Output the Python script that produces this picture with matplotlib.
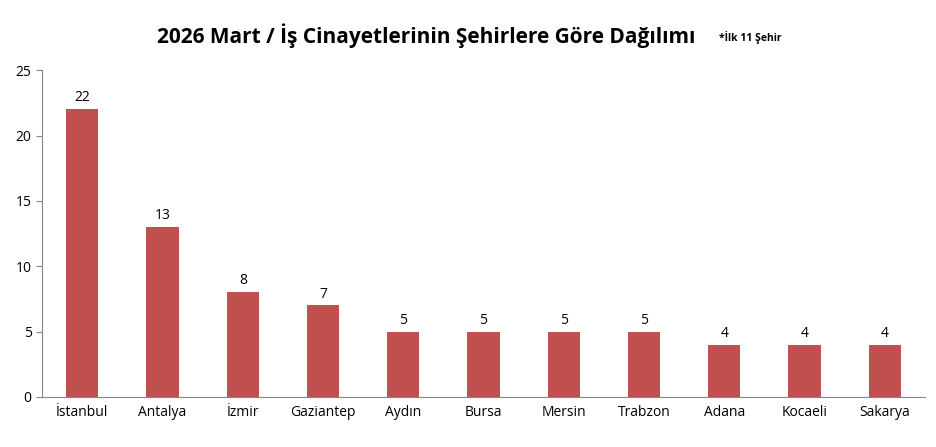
import matplotlib.pyplot as plt

cities = ["İstanbul", "Antalya", "İzmir", "Gaziantep", "Aydın", "Bursa",
          "Mersin", "Trabzon", "Adana", "Kocaeli", "Sakarya"]
counts = [22, 13, 8, 7, 5, 5, 5, 5, 4, 4, 4]

plt.rcParams['font.family'] = ['Open Sans', 'DejaVu Sans']

fig = plt.figure(figsize=(9.37, 4.47), dpi=100)
ax = fig.add_axes([0.045, 0.112, 0.942, 0.731])

bars = ax.bar(range(len(cities)), counts, width=0.4, color='#C0504D')
for i, v in enumerate(counts):
    ax.text(i, v + 0.3, str(v), ha='center', va='bottom', fontsize=10)

ax.set_xlim(-0.5, len(cities) - 0.5)
ax.set_ylim(0, 25)
ax.set_yticks(range(0, 26, 5))
ax.set_xticks(range(len(cities)))
ax.set_xticklabels(cities, fontsize=10)
ax.tick_params(axis='y', labelsize=10, length=4, color='#868686')
ax.tick_params(axis='x', length=0, pad=6)
for s in ['top', 'right']:
    ax.spines[s].set_visible(False)
for s in ['left', 'bottom']:
    ax.spines[s].set_color('#868686')

fig.text(0.455, 0.92, "2026 Mart / İş Cinayetlerinin Şehirlere Göre Dağılımı",
         ha='center', va='center', fontsize=15, fontweight='bold')
fig.text(0.767, 0.917, "*İlk 11 Şehir", ha='left', va='center',
         fontsize=7.5, fontweight='bold')

fig.savefig('out.png', dpi=100)
